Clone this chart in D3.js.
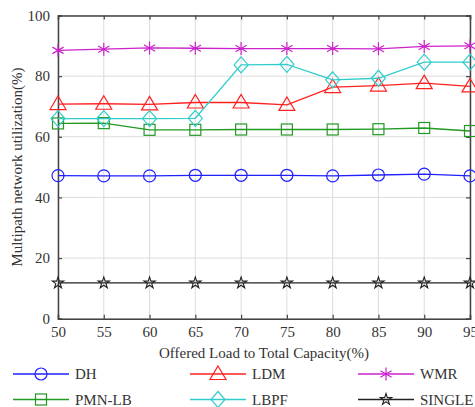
<!DOCTYPE html>
<html><head><meta charset="utf-8">
<script src="https://cdn.jsdelivr.net/npm/d3@7"></script>
<style>body{margin:0;background:#fff}svg{display:block}text{font-family:"Liberation Serif","Times New Roman",serif;fill:#333}</style>
</head><body><svg id="c" width="475" height="407"></svg>
<script>
const loads = [50,55,60,65,70,75,80,85,90,95];
const yTicks = [0,20,40,60,80,100];
const DH     = [47.2,47.1,47.1,47.3,47.3,47.3,47.1,47.4,47.7,47.1];
const LDM    = [70.8,70.9,70.7,71.3,71.3,70.5,76.4,76.9,77.7,76.6];
const WMR    = [88.5,88.9,89.3,89.2,89.1,89.1,89.1,89.0,89.8,90.0];
const PMNLB  = [64.4,64.5,62.3,62.3,62.4,62.4,62.4,62.5,62.9,61.9];
const LBPF   = [66.0,66.0,66.0,66.1,83.7,83.9,78.8,79.3,84.6,84.6];
const SINGLE = [11.8,11.8,11.8,11.8,11.8,11.8,11.8,11.8,11.8,11.8];
const seriesNames = ["DH","LDM","WMR","PMN-LB","LBPF","SINGLE"];
const seriesData = [DH,LDM,WMR,PMNLB,LBPF,SINGLE];
const colors = ["#2020ff","#ff2020","#cc22cc","#229922","#33cccc","#222222"];
const markers = ["circle","triangle","asterisk","square","diamond","star"];

const svg = d3.select("#c");
const L=58,R=470,T=15.5,B=318.7;
const x = d3.scaleLinear().domain([50,95]).range([L,R]);
const y = d3.scaleLinear().domain([0,100]).range([B,T]);

// grid
const g = svg.append("g");
g.selectAll(".gx").data(loads).join("line").attr("x1",d=>x(d)).attr("x2",d=>x(d)).attr("y1",T).attr("y2",B).attr("stroke","#dcdcdc").attr("stroke-width",1);
g.selectAll(".gy").data(yTicks).join("line").attr("y1",d=>y(d)).attr("y2",d=>y(d)).attr("x1",L).attr("x2",R).attr("stroke","#dcdcdc").attr("stroke-width",1);

// axes
const ax = svg.append("g");
ax.append("g").attr("transform",`translate(0,${B})`).call(d3.axisBottom(x).tickValues(loads).tickSize(-4).tickPadding(8).tickFormat(d3.format("d")));
ax.append("g").attr("transform",`translate(0,${T})`).call(d3.axisTop(x).tickValues(loads).tickSize(-4).tickFormat(""));
ax.append("g").attr("transform",`translate(${L},0)`).call(d3.axisLeft(y).tickValues(yTicks).tickSize(-4).tickPadding(8));
ax.append("g").attr("transform",`translate(${R},0)`).call(d3.axisRight(y).tickValues(yTicks).tickSize(-4).tickFormat(""));
ax.selectAll(".domain").attr("stroke","#444").attr("stroke-width",1.5);
ax.selectAll(".tick line").attr("stroke","#444").attr("stroke-width",1.2);
ax.selectAll(".tick text").style("font-family","'Liberation Serif',serif").style("font-size","15px").attr("fill","#333");

function drawMarker(sel, type, color){
  if(type==="circle") sel.append("circle").attr("r",6).attr("fill","none").attr("stroke",color).attr("stroke-width",1.2);
  else if(type==="triangle") sel.append("path").attr("d","M0,-8L8,5.5L-8,5.5Z").attr("fill","none").attr("stroke",color).attr("stroke-width",1.2);
  else if(type==="square") sel.append("rect").attr("x",-5.5).attr("y",-5.5).attr("width",11).attr("height",11).attr("fill","none").attr("stroke",color).attr("stroke-width",1.2);
  else if(type==="diamond") sel.append("path").attr("d","M0,-8L7,0L0,8L-7,0Z").attr("fill","none").attr("stroke",color).attr("stroke-width",1.2);
  else if(type==="asterisk") sel.append("path").attr("d","M0,-6.5V6.5M-5.6,-3.25L5.6,3.25M-5.6,3.25L5.6,-3.25").attr("stroke",color).attr("stroke-width",1.2);
  else if(type==="star") sel.append("path").attr("d",d3.symbol().type(d3.symbolStar).size(40)()).attr("fill","none").attr("stroke",color).attr("stroke-width",1.1);
}

const line = d3.line().x((d,i)=>x(loads[i])).y(d=>y(d));
seriesData.forEach((arr,k)=>{
  svg.append("path").datum(arr).attr("d",line).attr("fill","none").attr("stroke",colors[k]).attr("stroke-width",1.3);
  arr.forEach((v,i)=>{
    const m = svg.append("g").attr("transform",`translate(${x(loads[i])},${y(v)})`);
    drawMarker(m, markers[k], colors[k]);
  });
});

// labels
svg.append("text").attr("x",(L+R)/2).attr("y",358).attr("text-anchor","middle").style("font-size","15px").text("Offered Load to Total Capacity(%)");
svg.append("text").attr("transform",`translate(22,${(T+B)/2}) rotate(-90)`).attr("text-anchor","middle").style("font-size","15px").text("Multipath network utilization(%)");

// legend
const legX=[13,190,358], legY=[374,399.5];
seriesNames.forEach((n,k)=>{
  const col=k%3,row=Math.floor(k/3);
  const lx=legX[col], ly=legY[row];
  const lg=svg.append("g");
  lg.append("line").attr("x1",lx).attr("x2",lx+56).attr("y1",ly).attr("y2",ly).attr("stroke",colors[k]).attr("stroke-width",1.3);
  const m=lg.append("g").attr("transform",`translate(${lx+28},${ly})`);
  drawMarker(m,markers[k],colors[k]);
  lg.append("text").attr("x",lx+62).attr("y",ly+5).style("font-size","15px").text(n);
});
</script></body></html>
